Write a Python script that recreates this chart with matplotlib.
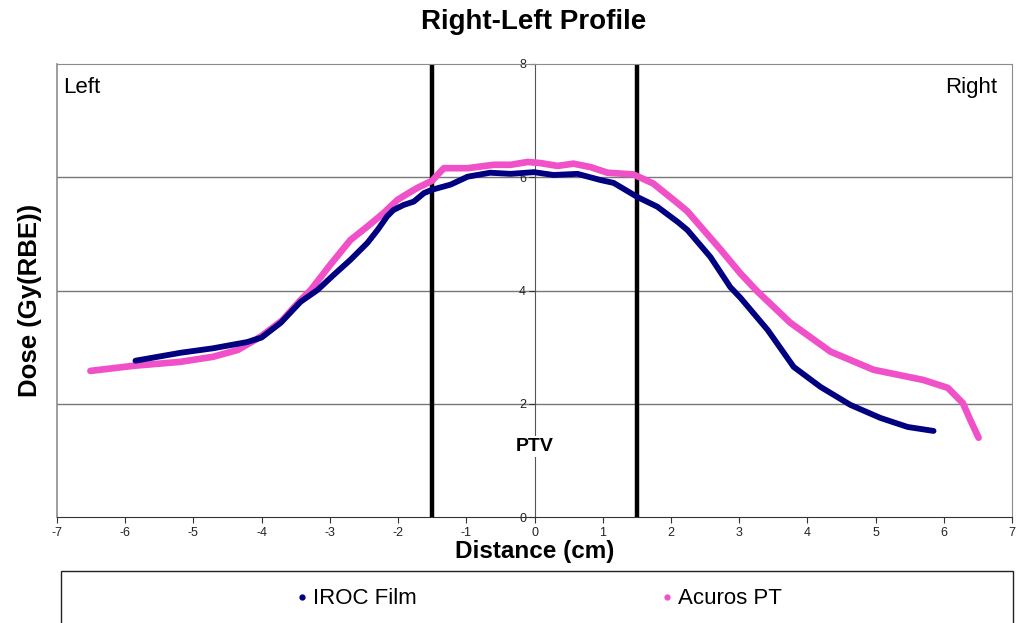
import matplotlib
matplotlib.use("Agg")
import matplotlib.pyplot as plt
from matplotlib.lines import Line2D
from matplotlib.patches import Rectangle

plt.rcParams['font.family'] = ['Liberation Sans', 'DejaVu Sans']
plt.rcParams['axes.unicode_minus'] = False

# film measurement (cm, Gy(RBE))
film_x = [-5.85, -5.19, -4.71, -4.21, -4.00, -3.72, -3.43, -3.18, -2.94, -2.70,
          -2.45, -2.30, -2.16, -2.07, -1.92, -1.77, -1.62, -1.50, -1.23, -0.98,
          -0.65, -0.35, -0.01, 0.28, 0.63, 0.97, 1.16, 1.51, 1.80, 2.10,
          2.24, 2.58, 2.87, 3.02, 3.42, 3.80, 4.19, 4.63, 5.07, 5.47, 5.85]
film_y = [2.76, 2.90, 2.98, 3.09, 3.17, 3.43, 3.80, 4.01, 4.28, 4.54,
          4.84, 5.07, 5.31, 5.42, 5.51, 5.57, 5.72, 5.78, 5.87, 6.01,
          6.08, 6.06, 6.09, 6.04, 6.06, 5.95, 5.90, 5.65, 5.48, 5.21,
          5.07, 4.59, 4.06, 3.87, 3.30, 2.65, 2.30, 1.98, 1.75, 1.59, 1.52]

# Acuros PT calculation
calc_x = [-6.51, -5.88, -5.19, -4.71, -4.35, -4.02, -3.70, -3.43, -3.28, -2.99,
          -2.70, -2.45, -2.21, -2.01, -1.82, -1.72, -1.50, -1.33, -0.98, -0.60,
          -0.35, -0.10, 0.09, 0.34, 0.57, 0.82, 1.07, 1.45, 1.74, 2.09,
          2.24, 2.73, 3.02, 3.27, 3.75, 4.34, 4.97, 5.70, 6.06, 6.28,
          6.39, 6.51]
calc_y = [2.58, 2.67, 2.74, 2.83, 2.95, 3.18, 3.47, 3.83, 4.01, 4.46,
          4.89, 5.13, 5.37, 5.60, 5.74, 5.81, 5.94, 6.16, 6.16, 6.22,
          6.22, 6.27, 6.25, 6.20, 6.24, 6.18, 6.08, 6.05, 5.89, 5.55,
          5.40, 4.72, 4.30, 3.98, 3.43, 2.92, 2.60, 2.42, 2.28, 2.01,
          1.71, 1.40]

ptv_edges = [-1.5, 1.5]
x_ticks = list(range(-7, 8))
y_ticks = [0, 2, 4, 6, 8]

navy = '#000080'
pink = '#F050C8'
grey = '#8c8c8c'

fig = plt.figure(figsize=(10.30, 6.23), dpi=100)
ax = fig.add_axes([57 / 1030, 1 - 517 / 623, 955 / 1030, 453 / 623])

ax.set_xlim(-7, 7)
ax.set_ylim(0, 8)

for y in y_ticks[1:-1]:
    ax.axhline(y, color='#777777', lw=1, zorder=1)

# frame around the plot area
ax.spines['top'].set_color(grey)
ax.spines['right'].set_color(grey)
ax.axvline(-7, color=grey, lw=1.2, clip_on=False, zorder=1)
ax.spines['bottom'].set_color('#333333')

# value axis sits at x = 0
ax.spines['left'].set_position(('data', 0))
ax.spines['left'].set_color('#555555')

ax.set_xticks(x_ticks)
ax.set_yticks(y_ticks)
ax.tick_params(axis='both', direction='out', length=4, labelsize=9,
               color='#333333', labelcolor='#222222', pad=2)
ax.tick_params(axis='x', pad=3)

for e in ptv_edges:
    ax.axvline(e, color='black', lw=3.2, zorder=2)

ax.plot(film_x, film_y, color=navy, lw=4.2, solid_capstyle='round',
        solid_joinstyle='round', zorder=4)
ax.plot(calc_x, calc_y, color=pink, lw=4.8, solid_capstyle='round',
        solid_joinstyle='round', zorder=3)

ax.text(0, 1.24, 'PTV', ha='center', va='center', fontsize=14, fontweight='bold',
        zorder=5, bbox=dict(facecolor='white', edgecolor='none', pad=1.5))
ax.text(0.006, 0.972, 'Left', transform=ax.transAxes, ha='left', va='top', fontsize=16)
ax.text(0.985, 0.972, 'Right', transform=ax.transAxes, ha='right', va='top', fontsize=16)

ax.set_xlabel('Distance (cm)', fontsize=17.5, fontweight='bold', labelpad=1)
fig.text(0.029, 1 - 300 / 623, 'Dose (Gy(RBE))', rotation=90, ha='center', va='center',
         fontsize=18.5, fontweight='bold')
fig.text(534 / 1030, 1 - 22 / 623, 'Right-Left Profile', ha='center', va='center',
         fontsize=20, fontweight='bold')

# legend box running off the bottom edge
fig.patches.append(Rectangle((61 / 1030, -0.05), 952 / 1030, 0.05 + 1 - 571 / 623,
                             transform=fig.transFigure, facecolor='white',
                             edgecolor='#222222', lw=1))
handles = [Line2D([], [], color=navy, marker='o', ls='none', markersize=3.5),
           Line2D([], [], color=pink, marker='o', ls='none', markersize=3.5)]
fig.legend(handles, ['IROC Film', 'Acuros PT'], loc='center left',
           bbox_to_anchor=(295 / 1030, 1 - 599 / 623), ncol=2, frameon=False,
           fontsize=16, handlelength=0.6, handletextpad=0.2, columnspacing=10.95,
           borderaxespad=0, borderpad=0)

fig.savefig('out.png', dpi=100)
